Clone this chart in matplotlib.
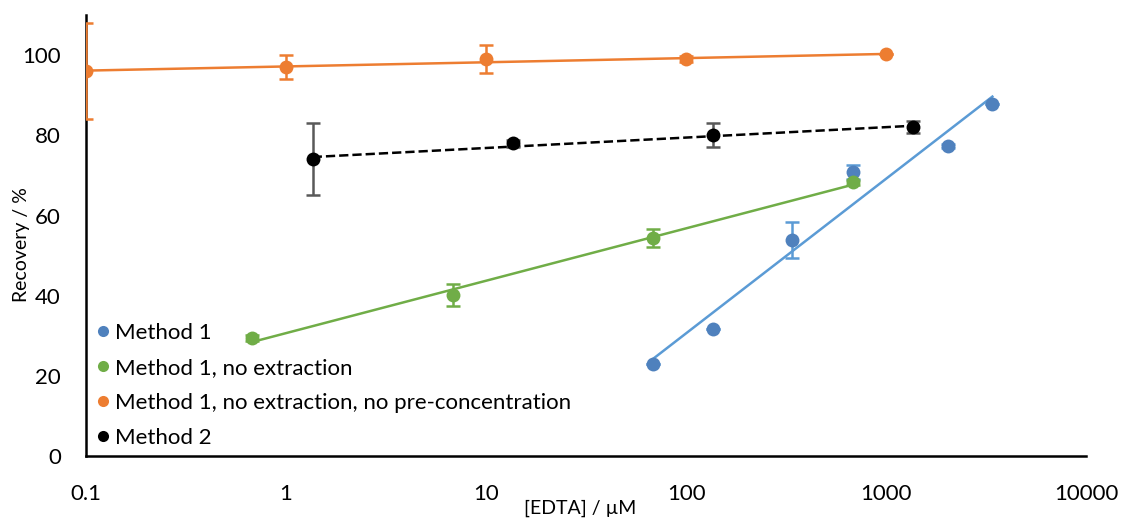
import numpy as np
import matplotlib.pyplot as plt

plt.rcParams['font.family'] = ['Lato', 'DejaVu Sans']

# Data: [EDTA] / uM, recovery / %, error
x_m1 = [68, 136, 340, 680, 2040, 3400]
y_m1 = [23.0, 31.7, 53.9, 70.8, 77.3, 87.8]
e_m1 = [0, 0, 4.6, 1.8, 0.5, 0]

x_m1n = [0.68, 6.8, 68, 680]
y_m1n = [29.5, 40.1, 54.4, 68.3]
e_m1n = [0.8, 2.7, 2.3, 0.6]

x_m1nn = [0.1, 1, 10, 100, 1000]
y_m1nn = [96.0, 97.0, 99.0, 99.0, 100.2]
e_m1nn = [12.0, 3.0, 3.5, 0.8, 0]

x_m2 = [1.36, 13.6, 136, 1360]
y_m2 = [74.0, 78.0, 80.0, 82.0]
e_m2 = [9.0, 0.8, 3.0, 1.5]

series = [
    ('Method 1', x_m1, y_m1, e_m1, '#4F81BD', '#5B9BD5', '#5B9BD5', '-'),
    ('Method 1, no extraction', x_m1n, y_m1n, e_m1n, '#70AD47', '#70AD47', '#70AD47', '-'),
    ('Method 1, no extraction, no pre-concentration', x_m1nn, y_m1nn, e_m1nn, '#ED7D31', '#ED7D31', '#ED7D31', '-'),
    ('Method 2', x_m2, y_m2, e_m2, '#000000', '#595959', '#000000', '--'),
]

fig = plt.figure(figsize=(11.22, 5.22), dpi=100)
ax = fig.add_axes([0.0766, 0.1264, 0.8914, 0.8446])

for name, xs, ys, es, mc, ec, lc, ls in series:
    xs = np.array(xs)
    ys = np.array(ys)
    # log trendline
    p = np.polyfit(np.log10(xs), ys, 1)
    xf = np.array([xs.min(), xs.max()])
    ax.plot(xf, np.polyval(p, np.log10(xf)), color=lc, ls=ls, lw=1.8, zorder=2)
    ax.errorbar(xs, ys, yerr=es, fmt='none', ecolor=ec, elinewidth=1.8,
                capsize=5, capthick=1.8, zorder=3)
    ax.plot(xs, ys, 'o', color=mc, ms=10, mec='none', label=name, zorder=4)

ax.set_xscale('log')
ax.set_xlim(0.1, 10000)
ax.set_ylim(0, 110)
ax.set_yticks([0, 20, 40, 60, 80, 100])
ax.set_xticks([0.1, 1, 10, 100, 1000, 10000])
ax.set_xticklabels(['0.1', '1', '10', '100', '1000', '10000'])
ax.minorticks_off()
ax.tick_params(length=0, labelsize=16)
ax.tick_params(axis='x', pad=20)
ax.tick_params(axis='y', pad=18)
for s in ['top', 'right']:
    ax.spines[s].set_visible(False)
for s in ['left', 'bottom']:
    ax.spines[s].set_linewidth(1.8)

ax.set_xlabel('[EDTA] / \u00b5M', fontsize=14)
ax.set_ylabel('Recovery / %', fontsize=14)
ax.xaxis.set_label_coords(0.494, -0.1)
ax.yaxis.set_label_coords(-0.056, 0.48)

ax.legend(loc='lower left', bbox_to_anchor=(-0.003, -0.012), frameon=False,
          fontsize=16, handlelength=0.6, handletextpad=0.25, labelspacing=0.68,
          borderaxespad=0.2, markerscale=0.8)

fig.savefig('out.png', dpi=100)
